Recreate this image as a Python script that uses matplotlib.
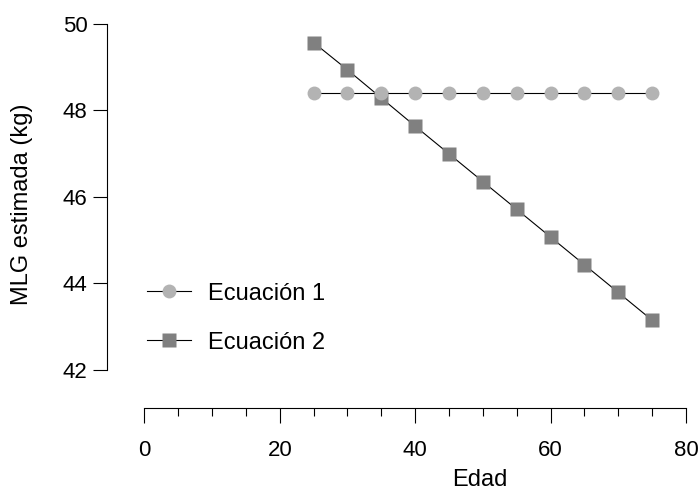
import numpy as np
import matplotlib
matplotlib.use('Agg')
import matplotlib.pyplot as plt
from matplotlib.ticker import FixedLocator

plt.rcParams['font.family'] = ['Liberation Sans', 'DejaVu Sans']

#%% Data
edad = [25, 30, 35, 40, 45, 50, 55, 60, 65, 70, 75]
ec1 = [48.40, 48.40, 48.40, 48.40, 48.40, 48.40, 48.40, 48.40, 48.40, 48.40, 48.40]
ec2 = [49.56, 48.93, 48.28, 47.63, 46.99, 46.35, 45.71, 45.07, 44.43, 43.79, 43.15]
labels = ['Ecuación 1', 'Ecuación 2']
yticks = [42, 44, 46, 48, 50]
xticks = [0, 20, 40, 60, 80]
xminor = [5, 10, 15, 25, 30, 35, 45, 50, 55, 65, 70, 75]

#%% Figure
fig = plt.figure(figsize=(6.98, 4.90), dpi=100)
ax = fig.add_axes([107/698, 82/490, 0.8391, 0.8112])

ax.plot(edad, ec2, '-', color='k', lw=0.8, zorder=1)
ax.plot(edad, ec2, 's', color='#808080', ms=9.5, mec='none', zorder=2)
ax.plot(edad, ec1, '-', color='k', lw=0.8, zorder=3)
ax.plot(edad, ec1, 'o', color='#b3b3b3', ms=10, mec='none', zorder=4)

ax.set_xlim(-5.53, 81)
ax.set_ylim(41.122, 50.3)

for s in ['top', 'right']:
    ax.spines[s].set_visible(False)
ax.spines['left'].set_bounds(42, 50)
ax.spines['bottom'].set_bounds(0, 80)
ax.spines['left'].set_linewidth(0.8)
ax.spines['bottom'].set_linewidth(0.8)

ax.set_yticks(yticks)
ax.set_xticks(xticks)
ax.xaxis.set_minor_locator(FixedLocator(xminor))
ax.tick_params(axis='both', which='major', labelsize=16, width=0.8)
ax.tick_params(axis='y', length=10, pad=4)
ax.tick_params(axis='x', which='major', length=10.8, pad=12.5)
ax.tick_params(axis='x', which='minor', length=5.8, width=0.8)

# legend (line handles with markers)
h1, = ax.plot([], [], '-o', color='k', lw=0.8, mfc='#b3b3b3', mec='none', ms=10)
h2, = ax.plot([], [], '-s', color='k', lw=0.8, mfc='#808080', mec='none', ms=9.5)
ax.legend([h1, h2], labels, loc='upper left', bbox_to_anchor=(147/698, 1-282.5/490),
          bbox_transform=fig.transFigure, frameon=False, fontsize=17,
          handlelength=1.86, handletextpad=0.72, labelspacing=1.15,
          borderpad=0, borderaxespad=0)

fig.text(22/698, 1-204/490, 'MLG estimada (kg)', rotation=90, ha='center', va='center', fontsize=17)
fig.text(480/698, 1-480/490, 'Edad', ha='center', va='center', fontsize=17)

fig.savefig('out.png', dpi=100, facecolor='w')
